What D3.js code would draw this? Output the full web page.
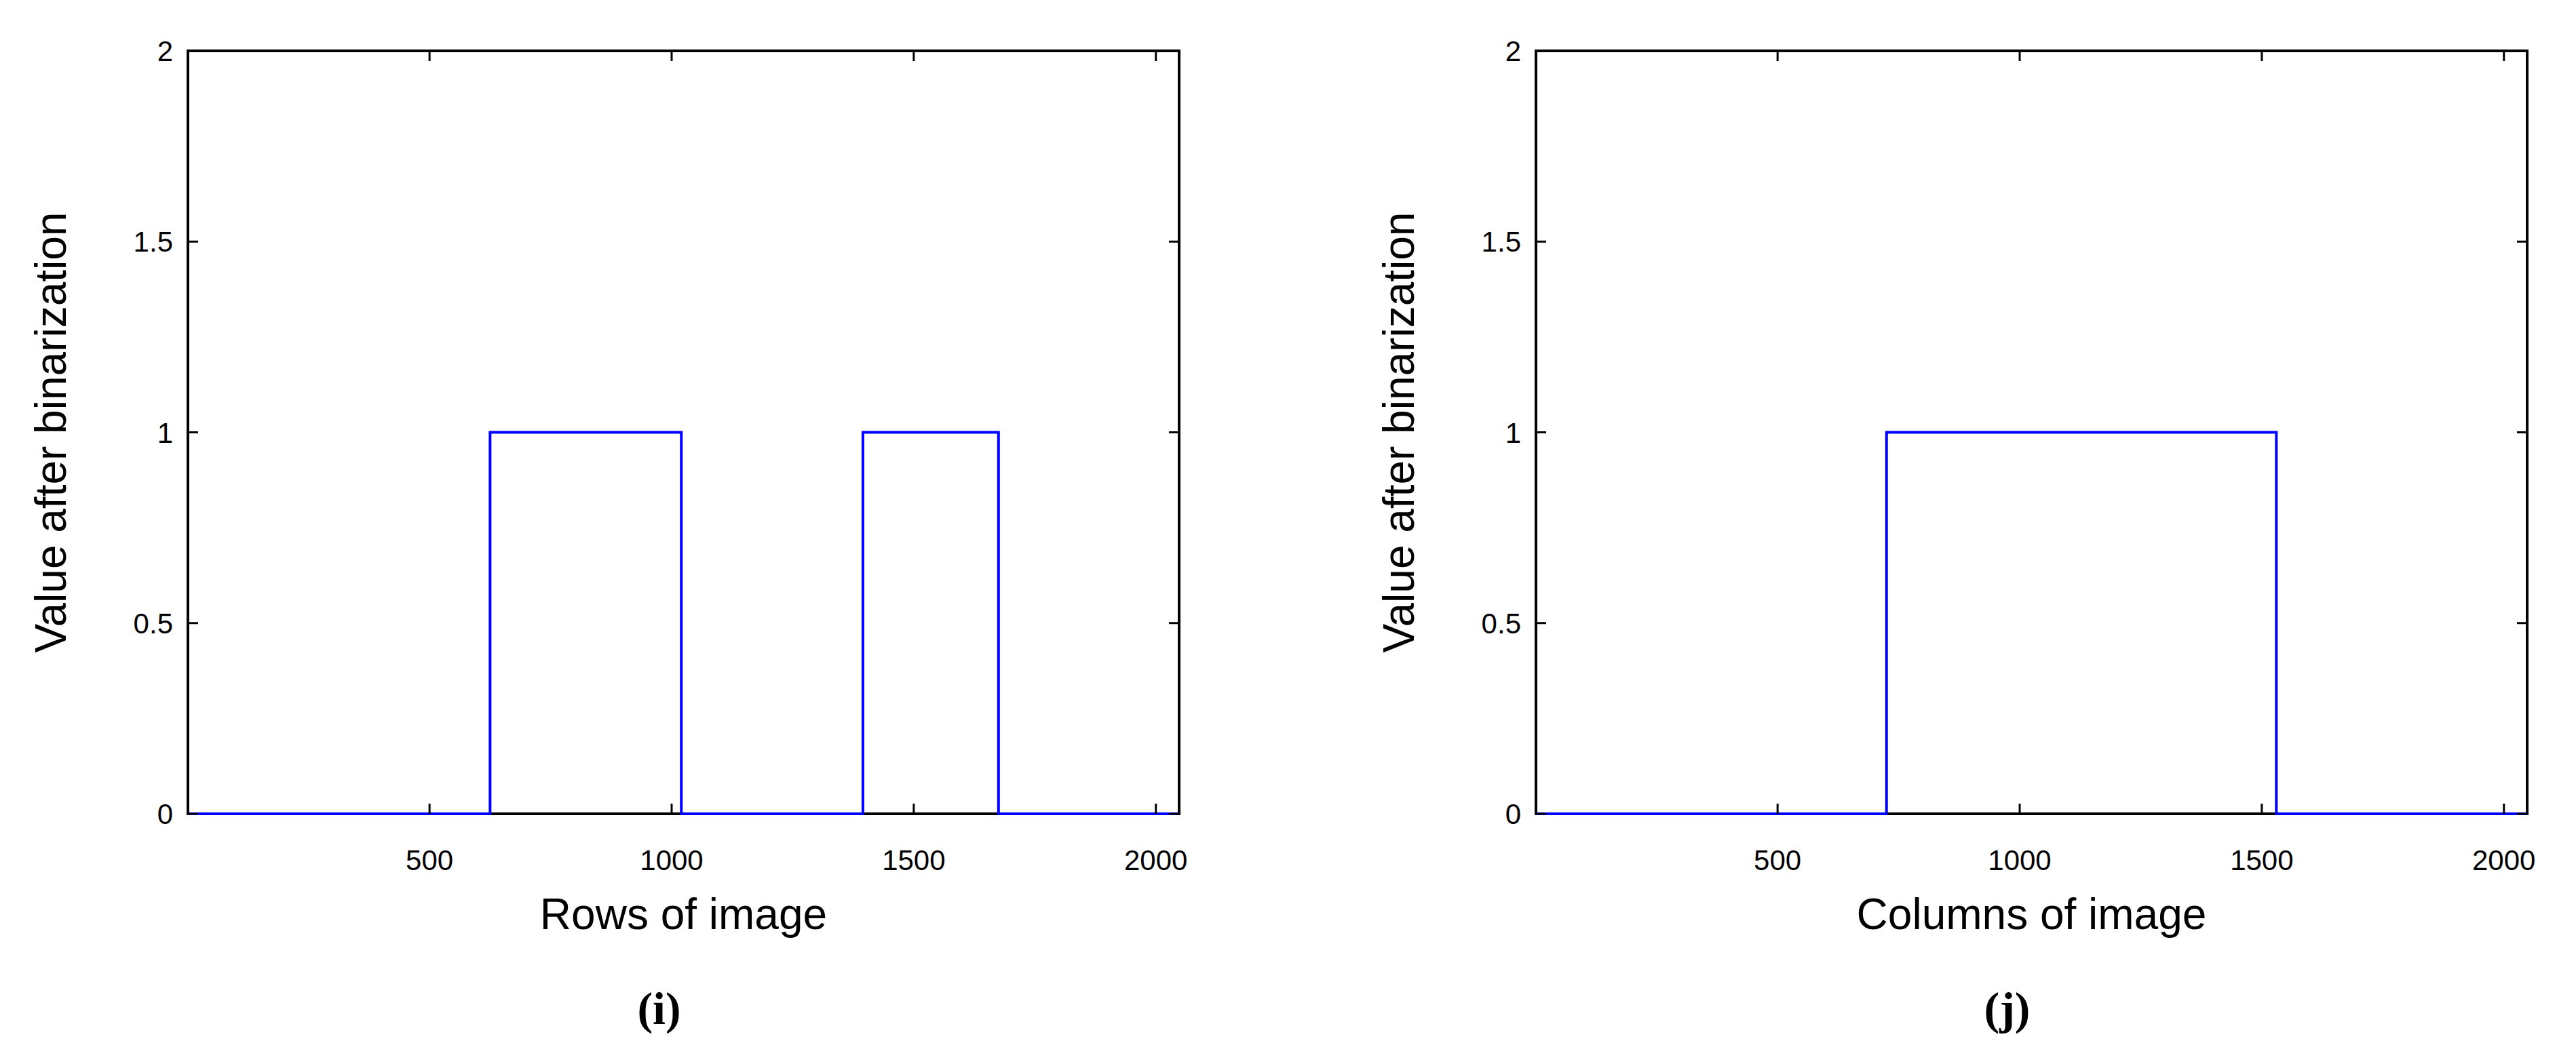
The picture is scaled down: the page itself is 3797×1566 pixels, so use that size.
<!DOCTYPE html><html><head><meta charset="utf-8">
<script src="https://cdn.jsdelivr.net/npm/d3@7"></script>
<style>body{margin:0;background:#fff}</style></head><body>
<svg id="c" width="3797" height="1566"></svg>
<script>
const xTicks=[500,1000,1500,2000];
const yTicks=[0,0.5,1,1.5,2];
const rowsX=[1,625,625,1020,1020,1395,1395,1675,1675,2048];
const rowsY=[0,0,1,1,0,0,1,1,0,0];
const colsX=[1,725,725,1530,1530,2048];
const colsY=[0,0,1,1,0,0];
const panels=[
 {left:277,xs:rowsX,ys:rowsY,xlabel:"Rows of image",tag:"(i)"},
 {left:2264,xs:colsX,ys:colsY,xlabel:"Columns of image",tag:"(j)"}];
const svg=d3.select("#c");
const W=1461,plotTop=75,plotBottom=1200;
const font="'Liberation Sans',Arial,sans-serif";
panels.forEach(p=>{
 const x=d3.scaleLinear().domain([1,2048]).range([p.left,p.left+W]);
 const y=d3.scaleLinear().domain([0,2]).range([plotBottom,plotTop]);
 const g=svg.append("g");
 const line=d3.line().x(d=>x(d[0])).y(d=>y(d[1]));
 g.append("rect").attr("x",x(1)).attr("y",plotTop).attr("width",W).attr("height",plotBottom-plotTop)
  .attr("fill","none").attr("stroke","#000").attr("stroke-width",4);
 g.append("path").datum(p.xs.map((v,i)=>[v,p.ys[i]])).attr("d",line)
  .attr("fill","none").attr("stroke","#0000ff").attr("stroke-width",4);
 const tl=15;
 xTicks.forEach(t=>{
  g.append("line").attr("x1",x(t)).attr("x2",x(t)).attr("y1",plotBottom).attr("y2",plotBottom-tl).attr("stroke","#000").attr("stroke-width",3);
  g.append("line").attr("x1",x(t)).attr("x2",x(t)).attr("y1",plotTop).attr("y2",plotTop+tl).attr("stroke","#000").attr("stroke-width",3);
  g.append("text").attr("x",x(t)).attr("y",1283).attr("text-anchor","middle")
   .attr("font-family",font).attr("font-size",42).text(t);
 });
 yTicks.forEach(t=>{
  g.append("line").attr("x1",x(1)).attr("x2",x(1)+tl).attr("y1",y(t)).attr("y2",y(t)).attr("stroke","#000").attr("stroke-width",3);
  g.append("line").attr("x1",x(2048)).attr("x2",x(2048)-tl).attr("y1",y(t)).attr("y2",y(t)).attr("stroke","#000").attr("stroke-width",3);
  g.append("text").attr("x",p.left-22).attr("y",y(t)+15).attr("text-anchor","end")
   .attr("font-family",font).attr("font-size",42).text(t);
 });
 g.append("text").attr("x",p.left+W/2).attr("y",1370).attr("text-anchor","middle")
  .attr("font-family",font).attr("font-size",64).text(p.xlabel);
 g.append("text").attr("transform",`translate(${p.left-180},${(plotTop+plotBottom)/2}) rotate(-90)`)
  .attr("text-anchor","middle").attr("font-family",font).attr("font-size",64).text("Value after binarization");
 g.append("text").attr("x",p.left+W/2-36).attr("y",1510).attr("text-anchor","middle")
  .attr("font-family","'Liberation Serif',serif").attr("font-weight","bold").attr("font-size",68).text(p.tag);
});
</script></body></html>
